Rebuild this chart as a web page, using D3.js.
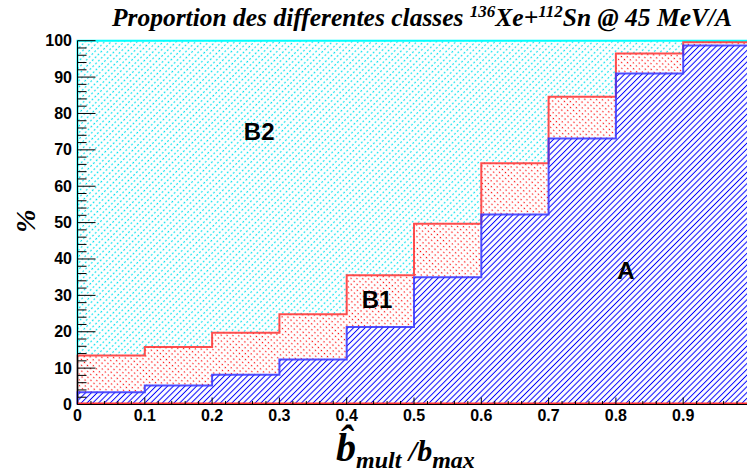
<!DOCTYPE html>
<html>
<head>
<meta charset="utf-8">
<script src="https://cdn.jsdelivr.net/npm/d3@7"></script>
<style>
  html, body { margin: 0; padding: 0; background: #fff; }
  svg { display: block; }
  .tick-label { font-family: "Liberation Sans", Arial, sans-serif; font-weight: bold; font-size: 16px; fill: #000; }
  .serif-title { font-family: "Liberation Serif", "Times New Roman", serif; font-weight: bold; font-style: italic; fill: #000; }
  .region-label { font-family: "Liberation Sans", Arial, sans-serif; font-weight: bold; font-size: 24px; fill: #000; }
</style>
</head>
<body>
<svg id="chart" width="747" height="472"></svg>
<script>
// Bin lower edges of b_mult / b_max
const binStarts = [0, 0.1, 0.2, 0.3, 0.4, 0.5, 0.6, 0.7, 0.8, 0.9];
const binWidth = 0.1;
// Cumulative percentage: class A
const classA = [3.4, 5.2, 8.2, 12.4, 21.3, 35.0, 52.2, 73.1, 91.0, 98.7];
// Cumulative percentage: classes A + B1
const classAB1 = [13.5, 15.8, 19.7, 24.8, 35.5, 49.7, 66.3, 84.6, 96.5, 99.6];
// Cumulative percentage: all classes (A + B1 + B2)
const classAll = [100, 100, 100, 100, 100, 100, 100, 100, 100, 100];

const yTickValues = [0, 10, 20, 30, 40, 50, 60, 70, 80, 90, 100];
const xTickValues = [0, 0.1, 0.2, 0.3, 0.4, 0.5, 0.6, 0.7, 0.8, 0.9];
const xTickLabels = ["0", "0.1", "0.2", "0.3", "0.4", "0.5", "0.6", "0.7", "0.8", "0.9"];

const regionLabels = [
  { text: "B2", x: 0.27, y: 75 },
  { text: "B1", x: 0.445, y: 29 },
  { text: "A",  x: 0.815, y: 37 }
];

const svg = d3.select("#chart");
const x = d3.scaleLinear().domain([0, 1]).range([77.5, 750.5]);
const y = d3.scaleLinear().domain([0, 100]).range([404.5, 40.7]);

// Hatch patterns
const defs = svg.append("defs");
function hatch(id, color, spacing, len, dash, width) {
  const p = defs.append("pattern")
    .attr("id", id)
    .attr("patternUnits", "userSpaceOnUse")
    .attr("width", spacing)
    .attr("height", len)
    .attr("patternTransform", "rotate(45)");
  const l = p.append("line")
    .attr("x1", spacing / 2).attr("y1", 0)
    .attr("x2", spacing / 2).attr("y2", len)
    .attr("stroke", color)
    .attr("stroke-width", width);
  if (dash) l.attr("stroke-dasharray", dash);
}
hatch("hatch-b2", "#00e0ee", 4.6, 4, "1.8 2.2", 1.2);
hatch("hatch-b1", "#ff0000", 4.3, 4, "1.2 2.8", 1.3);
hatch("hatch-a", "#0000ff", 4.1, 8, null, 1.0);

// Step data: each bin holds its value until the next edge
function steps(values) {
  const pts = binStarts.map((b, i) => [b, values[i]]);
  pts.push([binStarts[binStarts.length - 1] + binWidth, values[values.length - 1]]);
  return pts;
}

const area = d3.area()
  .x(d => x(d[0]))
  .y0(y(0))
  .y1(d => y(d[1]))
  .curve(d3.curveStepAfter);

const line = d3.line()
  .x(d => x(d[0]))
  .y(d => y(d[1]))
  .curve(d3.curveStepAfter);

const layers = [
  { values: classAll, pattern: "hatch-b2", stroke: "#00ffff" },
  { values: classAB1, pattern: "hatch-b1", stroke: "#ff3030" },
  { values: classA,   pattern: "hatch-a",  stroke: "#3333ff" }
];

const plot = svg.append("g");
layers.forEach(L => {
  const pts = steps(L.values);
  plot.append("path").datum(pts).attr("d", area).attr("fill", "#fff");
  plot.append("path").datum(pts).attr("d", area).attr("fill", `url(#${L.pattern})`);
});

// Outlines (with the rising edge at x = 0)
layers.forEach(L => {
  const pts = [[0, 0]].concat(steps(L.values));
  plot.append("path").datum(pts)
    .attr("d", line)
    .attr("fill", "none")
    .attr("stroke", L.stroke)
    .attr("stroke-width", 2)
    .attr("stroke-opacity", L.stroke === "#00ffff" ? 1 : 0.85);
});
// Baseline of the A+B1 histogram
plot.append("line")
  .attr("x1", x(0)).attr("x2", x(1))
  .attr("y1", y(0) - 1.2).attr("y2", y(0) - 1.2)
  .attr("stroke", "#ff3030").attr("stroke-width", 1.5);

// Axes
const axisG = svg.append("g");
axisG.append("line")
  .attr("x1", x(0)).attr("x2", x(0))
  .attr("y1", y(0)).attr("y2", y(100))
  .attr("stroke", "#000").attr("stroke-width", 1);
axisG.append("line")
  .attr("x1", x(0)).attr("x2", 747)
  .attr("y1", y(0)).attr("y2", y(0))
  .attr("stroke", "#000").attr("stroke-width", 1.2);

// Y ticks: major every 10, minor every 2, pointing into the frame
d3.range(0, 101, 2).forEach(v => {
  const major = v % 10 === 0;
  axisG.append("line")
    .attr("x1", x(0)).attr("x2", x(0) + (major ? 18 : 9))
    .attr("y1", y(v)).attr("y2", y(v))
    .attr("stroke", "#000").attr("stroke-width", 1);
});
// X ticks: major every 0.1, minor every 0.02
d3.range(0, 51).forEach(k => {
  const v = k * 0.02;
  const major = k % 5 === 0;
  axisG.append("line")
    .attr("x1", x(v)).attr("x2", x(v))
    .attr("y1", y(0)).attr("y2", y(0) - (major ? 7 : 3.5))
    .attr("stroke", "#000").attr("stroke-width", 1);
});

axisG.selectAll(".ylab").data(yTickValues).enter().append("text")
  .attr("class", "tick-label")
  .attr("x", 72)
  .attr("y", d => y(d) + 5.5)
  .attr("text-anchor", "end")
  .text(d => d);

axisG.selectAll(".xlab").data(xTickValues).enter().append("text")
  .attr("class", "tick-label")
  .attr("x", d => x(d))
  .attr("y", 420.5)
  .attr("text-anchor", "middle")
  .text((d, i) => xTickLabels[i]);

// Region labels
svg.selectAll(".region").data(regionLabels).enter().append("text")
  .attr("class", "region-label")
  .attr("x", d => x(d.x))
  .attr("y", d => y(d.y))
  .attr("text-anchor", "middle")
  .attr("dy", "0.36em")
  .text(d => d.text);

// Title
const title = svg.append("text")
  .attr("class", "serif-title")
  .attr("x", 422)
  .attr("y", 26)
  .attr("text-anchor", "middle")
  .style("font-size", "25.5px");
title.append("tspan").text("Proportion des differentes classes ");
title.append("tspan").attr("dy", -9).style("font-size", "17px").text("136");
title.append("tspan").attr("dy", 9).text("Xe+");
title.append("tspan").attr("dy", -9).style("font-size", "17px").text("112");
title.append("tspan").attr("dy", 9).text("Sn @ 45 MeV/A");

// Y axis title
svg.append("text")
  .attr("class", "serif-title")
  .attr("transform", "translate(35,221) rotate(-90)")
  .attr("text-anchor", "middle")
  .style("font-size", "28px")
  .text("%");

// X axis title: b-hat_mult / b_max
const xt = svg.append("text")
  .attr("class", "serif-title")
  .attr("x", 336)
  .attr("y", 461)
  .style("font-size", "40px");
xt.append("tspan").text("b\u0302");
xt.append("tspan").attr("dy", 7).style("font-size", "24px").text("mult");
xt.append("tspan").attr("dy", -7).style("font-size", "30px").text(" /b");
xt.append("tspan").attr("dy", 7).style("font-size", "24px").text("max");
</script>
</body>
</html>
